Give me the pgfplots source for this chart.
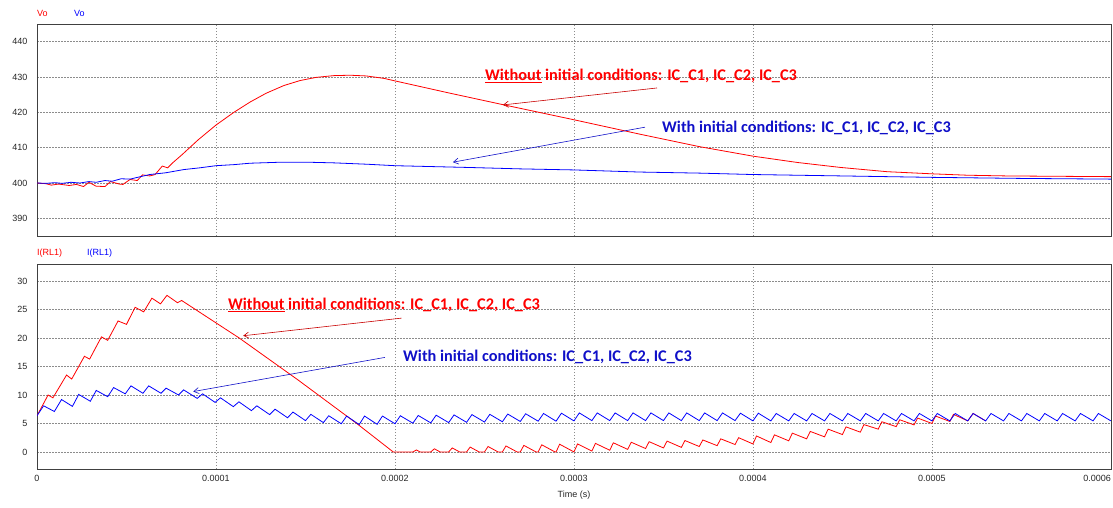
\documentclass[border=0pt]{standalone}
\usepackage{pgfplots}
\pgfplotsset{compat=1.18}
\usepackage{fontspec}
\setmainfont{Liberation Sans}
\newfontfamily\calib{Carlito}
\usetikzlibrary{arrows.meta}
\definecolor{pred}{RGB}{255,0,0}
\definecolor{pblue}{RGB}{0,0,255}
\definecolor{tblue}{RGB}{16,16,200}
\definecolor{ared}{RGB}{200,0,0}
\pgfplotsset{
  psim/.style={
    scale only axis, width=1074pt, xmin=0, xmax=600,
    xtick={0,100,...,600},
    grid=major,
    major grid style={black!45, dash pattern=on 1.5pt off 1.5pt, line width=0.6pt},
    axis line style={black!75, line width=0.8pt},
    major tick length=0pt,
    tick label style={font=\fontsize{9}{10}\selectfont, text=black!85},
    /pgf/number format/assume math mode=true,
    yticklabel style={xshift=-6pt},
    xticklabel style={yshift=-3pt},
  },
}
\tikzset{
  ann/.style={font=\calib\bfseries\fontsize{16.3}{19}\selectfont, anchor=west, inner sep=0pt},
  arr/.style={line width=0.6pt, -{Straight Barb[length=5pt,width=6pt]}},
}
\begin{document}
\begin{tikzpicture}[x=1pt,y=1pt]
\useasboundingbox (0,0) rectangle (1113,-507);
\node[anchor=west, inner sep=0pt, text=pred, font=\fontsize{9}{10}\selectfont] at (37,-13.3) {Vo};
\node[anchor=west, inner sep=0pt, text=pblue, font=\fontsize{9}{10}\selectfont] at (74,-13.3) {Vo};
\node[anchor=west, inner sep=0pt, text=pred, font=\fontsize{9}{10}\selectfont] at (37,-253.3) {I(RL1)};
\node[anchor=west, inner sep=0pt, text=pblue, font=\fontsize{9}{10}\selectfont] at (87,-253.3) {I(RL1)};

\begin{axis}[psim, at={(37pt,-24pt)}, anchor=north west, height=212pt,
  ymin=385, ymax=445, ytick={390,400,...,440}, xticklabels={}]
\addplot[pred, line width=0.8pt] coordinates {
(0,400) (5,399.8) (8,399.4) (12,399.7) (18,399.3) (22,399.6) (26,399.0) (29,400.2)
(33,399.1) (38,399.0) (41,400.4) (46,399.7) (48,399.6) (52,401.0) (56,400.7)
(59,402.3) (63,402.0) (66,402.4) (70,404.8) (73,404.3) (76,405.8) (81,408.0)
(90,412.2) (100,416.4) (110,420.0) (119,422.9) (128,425.4) (138,427.6) (147,429.0)
(156,429.9) (166,430.4) (175,430.5) (184,430.3) (194,429.6) (200,428.9) (230,425.5)
(261,422.1) (300,417.9) (337,413.8) (370,410.3) (400,407.6) (425,405.8) (449,404.4)
(475,403.2) (500,402.6) (520,402.2) (542,402.0) (570,401.9) (600,401.8)
};
\addplot[pblue, line width=0.8pt] coordinates {
(0,400) (5,399.9) (10,400.1) (14,399.9) (19,400.2) (24,400.0) (29,400.4) (33,400.2)
(38,400.7) (42,400.5) (47,401.2) (52,401.1) (57,401.7) (63,402.4) (72,402.9)
(82,403.8) (91,404.3) (100,404.9) (110,405.2) (119,405.6) (137,405.9) (150,405.9)
(166,405.7) (185,405.3) (200,404.9) (241,404.4) (270,404.0) (300,403.7) (337,403.1)
(370,402.8) (400,402.4) (450,402.0) (500,401.6) (550,401.3) (600,401.1)
};
\node[ann, text=pred] at (axis cs:250.3,430.4) {\underline{Without} initial conditions: IC\_C1, IC\_C2, IC\_C3};
\node[ann, text=tblue] at (axis cs:349.2,415.7) {With initial conditions: IC\_C1, IC\_C2, IC\_C3};
\draw[arr, ared] (axis cs:346.4,426.9) -- (axis cs:260.3,422.1);
\draw[arr, tblue] (axis cs:339.7,415.8) -- (axis cs:232.4,405.9);
\end{axis}

\begin{axis}[psim, at={(37pt,-264pt)}, anchor=north west, height=205pt,
  ymin=-3, ymax=33, ytick={0,5,...,30},
  xticklabels={0,0.0001,0.0002,0.0003,0.0004,0.0005,\makebox[0pt][r]{0.0006}},
  xlabel={Time (s)}, xlabel style={font=\fontsize{9}{10}\selectfont, text=black!85, yshift=-2pt}]
\addplot[pred, line width=0.8pt] coordinates {
(0,6.35) (6.2,10.0) (8.9,9.5) (16.5,13.5) (19.4,12.8) (26.5,16.8) (29.4,16.3)
(36,20.2) (39.5,19.6) (45.3,23.0) (50,22.4) (54.8,25.4) (59.6,24.6) (64.2,27.0)
(69,26.0) (72.6,27.5) (78.5,26.2) (80.8,26.6) (113,20.0) (146,12.6) (178.6,5.0)
(199,0) (210,0) (212,0.35) (214,0) (220,0) (222,0.55) (225.2,0) (230,0) (232,0.7)
(236.1,0) (240,0) (242,0.85) (247,0) (250,0) (252,0.95) (257.6,0) (260,0) (262,1.05)
(268.2,0) (270,0) (272,1.15) (278.8,0) (280,0) (282,1.25) (289.4,0) (290,0) (292,1.35)
(300,0) (302,1.4) (310,0.15) (312,1.5) (320,0.3) (322,1.6) (330,0.45) (332,1.7)
(340,0.6) (342,1.8) (350,0.7) (352,1.9) (360,0.8) (362,2.0) (370,0.95) (372,2.1)
(380,1.1) (382,2.3) (390,1.3) (392,2.5) (400,1.4) (402,2.8) (410,1.65) (412,3.0)
(420,1.95) (422,3.3) (430,2.3) (432,3.6) (440,2.65) (442,4.0) (450,3.05) (452,4.4)
(460,3.47) (462,4.8) (470,4.0) (472,5.3) (480,4.45) (482,5.65) (490,4.75) (492,5.95)
(500,5.0) (502,6.3) (510,5.35) (512,6.6) (520,5.45) (523,6.75) (530,5.45)
};
\addplot[pblue, line width=0.8pt] coordinates {
(0,6.35) (3.7,8.1) (9.7,7.1) (13.7,9.2) (19.8,8.0) (23.3,10.1) (29.8,8.9) (33.1,10.8)
(39.5,9.7) (42.8,11.3) (49.3,10.2) (52.5,11.6) (59.2,10.3) (62.4,11.6) (69.3,10.3)
(72.1,11.2) (79.1,10.0) (81.9,10.9) (89.5,9.4) (92.5,10.2) (99.5,8.7) (102.5,9.5)
(109.7,7.95) (112.8,8.8) (119.8,7.25) (122.8,8.1) (130,6.55) (133,7.5) (140,6.0)
(143,7.0) (150,5.5) (153,6.6) (160,5.15) (163,6.35) (170,4.95) (173,6.3) (180,4.8)
(183,6.3) (190,4.85) (193,6.3) (200,4.95) (203,6.35) (210,5.05) (213,6.4) (220,5.1)
(223,6.45) (230,5.15) (233,6.5) (240,5.2) (243,6.55) (250,5.25) (253,6.6) (260,5.3)
(263,6.65) (270,5.35) (273,6.7) (280,5.4) (283,6.75) (290,5.4) (293,6.8) (300,5.45)
(303,6.85) (310,5.5) (313,6.85) (320,5.5) (323,6.85) (330,5.5) (333,6.85) (340,5.5)
(343,6.85) (350,5.5) (353,6.85) (360,5.5) (363,6.85) (370,5.5) (373,6.85) (380,5.5)
(383,6.85) (390,5.5) (393,6.8) (400,5.45) (403,6.8) (410,5.45) (413,6.75) (420,5.45)
(423,6.75) (430,5.45) (433,6.75) (440,5.45) (443,6.75) (450,5.45) (453,6.75) (460,5.45)
(463,6.75) (470,5.45) (473,6.75) (480,5.45) (483,6.75) (490,5.45) (493,6.75) (500,5.45)
(503,6.75) (510,5.45) (513,6.75) (520,5.45) (523,6.75) (530,5.45) (533,6.75) (540,5.45)
(543,6.75) (550,5.45) (553,6.75) (560,5.45) (563,6.75) (570,5.45) (573,6.75) (580,5.45)
(583,6.75) (590,5.45) (593,6.75) (600,5.45)
};
\node[ann, text=pred] at (axis cs:106.7,25.8) {\underline{Without} initial conditions: IC\_C1, IC\_C2, IC\_C3};
\node[ann, text=tblue] at (axis cs:204.5,16.7) {With initial conditions: IC\_C1, IC\_C2, IC\_C3};
\draw[arr, ared] (axis cs:203.7,23.5) -- (axis cs:115.2,20.4);
\draw[arr, tblue] (axis cs:194.4,16.6) -- (axis cs:87.3,10.6);
\end{axis}
\end{tikzpicture}
\end{document}
